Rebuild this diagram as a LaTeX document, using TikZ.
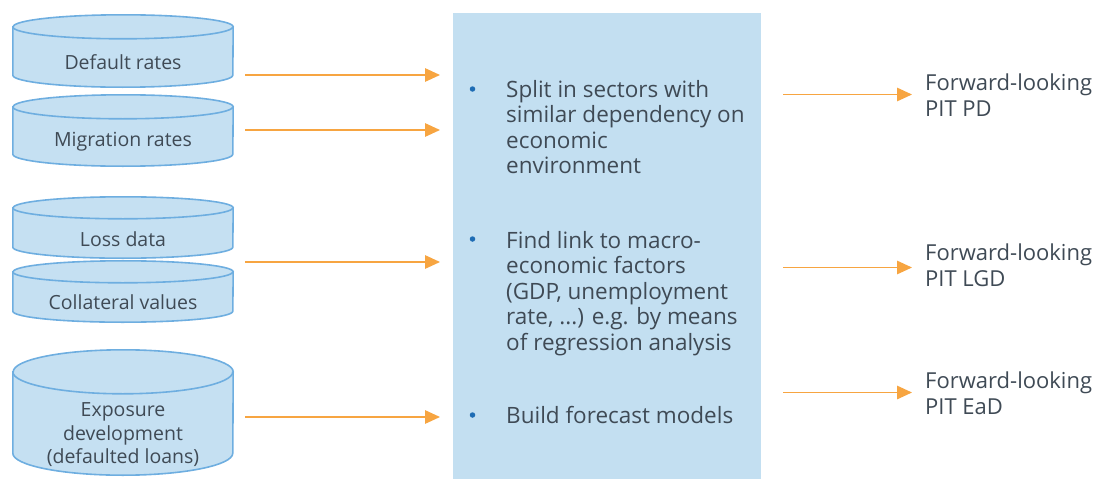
\documentclass[tikz,border=0pt]{standalone}
\usepackage{fontspec}
\setmainfont{Open Sans}
\usetikzlibrary{positioning, arrows.meta}

\definecolor{boxblue}{HTML}{C3DFF1}
\definecolor{cylfill}{HTML}{C5E0F2}
\definecolor{cyledge}{HTML}{6EAEE0}
\definecolor{arrorange}{HTML}{F7A541}
\definecolor{txtgray}{HTML}{3F4A55}
\definecolor{dotblue}{HTML}{1E6CB4}

% database drum round an (empty) node: #1 node name, #2 radius of the end ellipse
\newcommand\dbshape[2]{%
  \draw[dbline] ([yshift=-#2]#1.north west) -- ([yshift=#2]#1.south west)
    arc[start angle=180, end angle=360, x radius=110pt, y radius=#2]
    -- ([yshift=-#2]#1.north east)
    arc[start angle=0, end angle=180, x radius=110pt, y radius=#2] -- cycle;
  \draw[dbline, fill=none] ([yshift=-#2]#1.north west)
    arc[start angle=180, end angle=360, x radius=110pt, y radius=#2];
}

\begin{document}
\begin{tikzpicture}[
  x=1pt, y=-1pt,
  text=txtgray,
  db/.style={rectangle, inner sep=0pt, minimum width=220pt},
  dbline/.style={draw=cyledge, fill=cylfill, line width=1.6pt},
  dblbl/.style={align=center, inner sep=0pt, font=\fontsize{19.5}{23.5}\selectfont},
  item/.style={anchor=base west, align=left, inner sep=0pt, font=\fontsize{22.5}{25.4}\selectfont},
  outlbl/.style={anchor=base west, align=left, inner sep=0pt, font=\fontsize{22}{26}\selectfont},
  dot/.style={circle, fill=dotblue, inner sep=0pt, minimum size=5.5pt},
  arr/.style={-{Triangle[length=15pt, width=13.5pt]}, draw=arrorange, line width=1.4pt}
]
\useasboundingbox (0,0) rectangle (1103,479);

% data sources
\node[db, minimum height=72pt] (defr) at (123,51) {};
\node[db, minimum height=71pt] (migr) at (123,130.5) {};
\node[db, minimum height=61pt] (loss) at (123,227.5) {};
\node[db, minimum height=61pt] (coll) at (123,291.5) {};
\node[db, minimum height=125pt] (expo) at (123,412.5) {};
\dbshape{defr}{12pt}
\dbshape{migr}{12pt}
\dbshape{loss}{11pt}
\dbshape{coll}{11pt}
\dbshape{expo}{22pt}
\node[dblbl] (defr-t) at (123,62.5) {Default rates};
\node[dblbl] (migr-t) at (123,141.5) {Migration rates};
\node[dblbl] (loss-t) at (123,239.5) {Loss data};
\node[dblbl] (coll-t) at (123,302) {Collateral values};
\node[dblbl] (expo-t) at (123,435) {Exposure\\development\\(defaulted loans)};

% modelling box
\node[fill=boxblue, minimum width=308pt, minimum height=466pt, inner sep=0pt, anchor=north west] (proc) at (453,13) {};
\node[dot] (d1) at (472.5,89) {};
\node[item] (t1) at (506,173.7) {Split in sectors with\\similar dependency on\\economic\\environment};
\node[dot] (d2) at (472.5,239) {};
\node[item] (t2) at (506,350) {Find link to macro-\\economic factors\\(GDP, unemployment\\rate, ...) e.g. by means\\of regression analysis};
\node[dot] (d3) at (472.5,415) {};
\node[item] (t3) at (506,423) {Build forecast models};

% outputs
\node[outlbl] (pd) at (925,116) {Forward-looking\\PIT PD};
\node[outlbl] (lgd) at (925,286) {Forward-looking\\PIT LGD};
\node[outlbl] (ead) at (925,414) {Forward-looking\\PIT EaD};

% arrows in
\coordinate (in1) at (245,75);
\coordinate (in2) at (245,130);
\coordinate (in3) at (245,262);
\coordinate (in4) at (245,417);
\foreach \c in {in1,in2,in3,in4}
  \draw[arr, shorten >=13pt] (\c) -- (\c -| proc.west);

% arrows out
\coordinate (o1) at (783,94.5);
\coordinate (o2) at (783,267.5);
\coordinate (o3) at (783,392.5);
\draw[arr, shorten >=13pt] (o1) -- (o1 -| pd.west);
\draw[arr, shorten >=13pt] (o2) -- (o2 -| lgd.west);
\draw[arr, shorten >=13pt] (o3) -- (o3 -| ead.west);
\end{tikzpicture}
\end{document}
